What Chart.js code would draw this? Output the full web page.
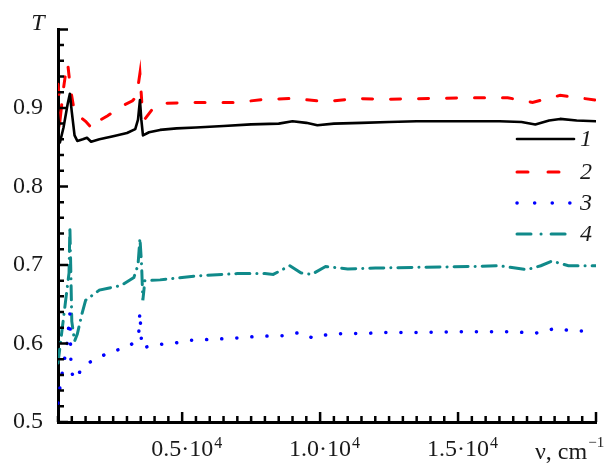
<!DOCTYPE html>
<html>
<head>
<meta charset="utf-8">
<script src="https://cdn.jsdelivr.net/npm/chart.js@4.4.0/dist/chart.umd.min.js"></script>
<style>
    html, body { margin: 0; padding: 0; background: #fff; }
    #wrap { width: 609px; height: 467px; position: relative; }
</style>
</head>
<body>
<div id="wrap"><canvas id="c"></canvas></div>
<script>
// Wavenumber (cm^-1) and transmittance for each curve
const nu1 = [500, 570, 700, 850, 930, 1000, 1100, 1200, 1400, 1550, 1700, 2000, 2500, 3000, 3300, 3400, 3470, 3520, 3580, 3800, 4200, 4800, 5500, 6500, 7500, 8500, 9000, 9500, 9900, 10500, 11500, 12500, 13500, 14500, 15500, 16500, 17300, 17800, 18300, 18700, 19300, 20000];
const t1  = [0.858, 0.856, 0.875, 0.905, 0.918, 0.895, 0.865, 0.858, 0.860, 0.862, 0.857, 0.860, 0.864, 0.868, 0.873, 0.885, 0.910, 0.885, 0.865, 0.869, 0.872, 0.874, 0.875, 0.877, 0.879, 0.880, 0.883, 0.881, 0.878, 0.880, 0.881, 0.882, 0.883, 0.883, 0.883, 0.883, 0.882, 0.879, 0.884, 0.886, 0.884, 0.883];

const nu2 = [500, 600, 700, 800, 850, 950, 1100, 1500, 1750, 2000, 2300, 2800, 3200, 3350, 3470, 3550, 3650, 4000, 4400, 5500, 7000, 8000, 9000, 10200, 11300, 12500, 14000, 15500, 16800, 17700, 18700, 20000];
const t2  = [0.930, 0.893, 0.925, 0.950, 0.957, 0.925, 0.894, 0.883, 0.873, 0.884, 0.890, 0.902, 0.909, 0.915, 0.944, 0.900, 0.886, 0.902, 0.906, 0.907, 0.907, 0.911, 0.912, 0.908, 0.912, 0.911, 0.912, 0.913, 0.913, 0.907, 0.916, 0.910];

const nu3 = [500, 570, 680, 830, 860, 930, 970, 1040, 1190, 1300, 1590, 2090, 2450, 2920, 3210, 3430, 3467, 3500, 3540, 3760, 4260, 4660, 5280, 5930, 6980, 7700, 8710, 9260, 9730, 10340, 11720, 12330, 13500, 15000, 17000, 17800, 18500, 19200, 20000];
const t3  = [0.524, 0.544, 0.569, 0.599, 0.611, 0.638, 0.574, 0.556, 0.555, 0.565, 0.575, 0.584, 0.590, 0.594, 0.600, 0.615, 0.640, 0.619, 0.594, 0.596, 0.599, 0.600, 0.604, 0.605, 0.607, 0.609, 0.610, 0.614, 0.607, 0.612, 0.613, 0.614, 0.614, 0.615, 0.615, 0.613, 0.619, 0.616, 0.616];

const nu4 = [500, 900, 930, 960, 1000, 1100, 1200, 1370, 1500, 2000, 2800, 3250, 3400, 3470, 3530, 3575, 3650, 4200, 5500, 7000, 8000, 8300, 8900, 9300, 9700, 10200, 11000, 12000, 13500, 15500, 16500, 17500, 18000, 18400, 19000, 20000];
const t4  = [0.575, 0.690, 0.749, 0.700, 0.628, 0.603, 0.612, 0.638, 0.655, 0.668, 0.674, 0.684, 0.700, 0.734, 0.700, 0.655, 0.680, 0.681, 0.686, 0.689, 0.689, 0.688, 0.699, 0.690, 0.688, 0.698, 0.695, 0.696, 0.697, 0.698, 0.699, 0.694, 0.699, 0.705, 0.699, 0.699];

// Tick labels
const xMajor = [5000, 10000, 15000];
const xMajorText = ['0.5·10', '1.0·10', '1.5·10'];
const xMajorExp = '4';
const yMajor = [0.5, 0.6, 0.7, 0.8, 0.9];
const yMajorText = ['0.5', '0.6', '0.7', '0.8', '0.9'];

const seriesNames = ['1', '2', '3', '4'];

const SERIF = "'Liberation Serif', 'Times New Roman', Times, serif";
Chart.defaults.font.family = SERIF;
Chart.defaults.font.size = 24;
Chart.defaults.color = '#1a1a1a';

function toPoints(xs, ys) {
    return xs.map((x, i) => ({ x: x, y: ys[i] }));
}

function findLabel(values, texts, v) {
    const i = values.findIndex(m => Math.abs(m - v) < 1e-6);
    return i >= 0 ? texts[i] : '';
}

// Inward ticks on both axes, plus the power-of-ten exponent on x labels
const inwardTicks = {
    id: 'inwardTicks',
    afterDraw(chart) {
        const ctx = chart.ctx;
        const xs = chart.scales.x;
        const ys = chart.scales.y;
        const area = chart.chartArea;
        ctx.save();
        ctx.strokeStyle = '#000';
        ctx.lineWidth = 2.5;
        ctx.beginPath();
        xs.ticks.forEach(t => {
            const px = xs.getPixelForValue(t.value);
            const major = Math.abs(t.value % 5000) < 1e-6;
            const len = major ? 10 : 6;
            ctx.moveTo(px, area.bottom);
            ctx.lineTo(px, area.bottom - len);
        });
        ys.ticks.forEach(t => {
            const py = ys.getPixelForValue(t.value);
            const r = t.value * 10;
            const major = Math.abs(r - Math.round(r)) < 1e-6;
            const len = major ? 10 : 6;
            ctx.moveTo(area.left, py);
            ctx.lineTo(area.left + len, py);
        });
        ctx.stroke();

        // exponents after the x labels
        ctx.fillStyle = '#1a1a1a';
        ctx.textBaseline = 'alphabetic';
        ctx.textAlign = 'left';
        xMajor.forEach((v, i) => {
            ctx.font = '24px ' + SERIF;
            const w = ctx.measureText(xMajorText[i]).width;
            const px = xs.getPixelForValue(v);
            ctx.font = '16px ' + SERIF;
            ctx.fillText(xMajorExp, px + w / 2 + 1, 448);
        });
        ctx.restore();
    }
};

// Axis names and the numbered legend on the right
const annotations = {
    id: 'annotations',
    afterDraw(chart) {
        const ctx = chart.ctx;
        ctx.save();
        ctx.fillStyle = '#1a1a1a';
        ctx.textBaseline = 'alphabetic';

        ctx.font = 'italic 24px ' + SERIF;
        ctx.textAlign = 'center';
        ctx.fillText('T', 38, 30);

        ctx.textAlign = 'left';
        ctx.font = '24px ' + SERIF;
        ctx.fillText('ν, cm', 535, 459);
        const w = ctx.measureText('ν, cm').width;
        ctx.font = '15px ' + SERIF;
        ctx.fillText('−1', 535 + w + 1, 447);

        const rows = [139, 172, 203, 234];
        chart.data.datasets.forEach((ds, i) => {
            const y = rows[i];
            ctx.save();
            ctx.strokeStyle = ds.borderColor;
            ctx.lineWidth = ds.borderWidth;
            ctx.lineCap = ds.borderCapStyle || 'butt';
            ctx.setLineDash(ds.legendDash || []);
            ctx.beginPath();
            ctx.moveTo(517, y);
            ctx.lineTo(574, y);
            ctx.stroke();
            ctx.restore();
            ctx.font = 'italic 24px ' + SERIF;
            ctx.fillStyle = '#1a1a1a';
            ctx.textBaseline = 'middle';
            ctx.fillText(seriesNames[i], 580, y + 1);
        });
        ctx.restore();
    }
};

const commonLine = {
    fill: false,
    tension: 0,
    pointRadius: 0,
    pointHoverRadius: 0
};

new Chart(document.getElementById('c'), {
    type: 'line',
    data: {
        datasets: [
            Object.assign({}, commonLine, {
                label: seriesNames[0],
                data: toPoints(nu1, t1),
                borderColor: '#000000',
                borderWidth: 2.6,
                borderCapStyle: 'round',
                borderJoinStyle: 'round',
                legendDash: []
            }),
            Object.assign({}, commonLine, {
                label: seriesNames[1],
                data: toPoints(nu2, t2),
                borderColor: '#ff0000',
                borderWidth: 3,
                borderDash: [10, 18],
                borderCapStyle: 'round',
                legendDash: [11, 20]
            }),
            Object.assign({}, commonLine, {
                label: seriesNames[2],
                data: toPoints(nu3, t3),
                borderColor: '#0000ff',
                borderWidth: 3.5,
                borderDash: [0.1, 15],
                borderCapStyle: 'round',
                legendDash: [0.1, 17.5]
            }),
            Object.assign({}, commonLine, {
                label: seriesNames[3],
                data: toPoints(nu4, t4),
                borderColor: '#108a8a',
                borderWidth: 3,
                borderDash: [14, 7, 0.1, 7],
                borderCapStyle: 'round',
                legendDash: [14, 10, 0.1, 10]
            })
        ]
    },
    options: {
        responsive: true,
        maintainAspectRatio: false,
        animation: false,
        layout: { padding: { top: 22, right: 12, left: 0, bottom: 0 } },
        plugins: {
            legend: { display: false },
            tooltip: { enabled: false }
        },
        scales: {
            x: {
                type: 'linear',
                min: 500,
                max: 20000,
                afterFit: s => { s.height = 45; },
                grid: { display: false, drawTicks: false },
                border: { display: true, color: '#000', width: 3 },
                ticks: {
                    stepSize: 500,
                    autoSkip: false,
                    maxRotation: 0,
                    padding: 13,
                    font: { family: SERIF, size: 24 },
                    callback: v => findLabel(xMajor, xMajorText, v)
                }
            },
            y: {
                min: 0.5,
                max: 1.0,
                afterFit: s => { s.width = 58; },
                grid: { display: false, drawTicks: false },
                border: { display: true, color: '#000', width: 3 },
                ticks: {
                    stepSize: 0.02,
                    autoSkip: false,
                    padding: 15,
                    font: { family: SERIF, size: 24 },
                    callback: v => findLabel(yMajor, yMajorText, v)
                }
            }
        }
    },
    plugins: [inwardTicks, annotations]
});
</script>
</body>
</html>
